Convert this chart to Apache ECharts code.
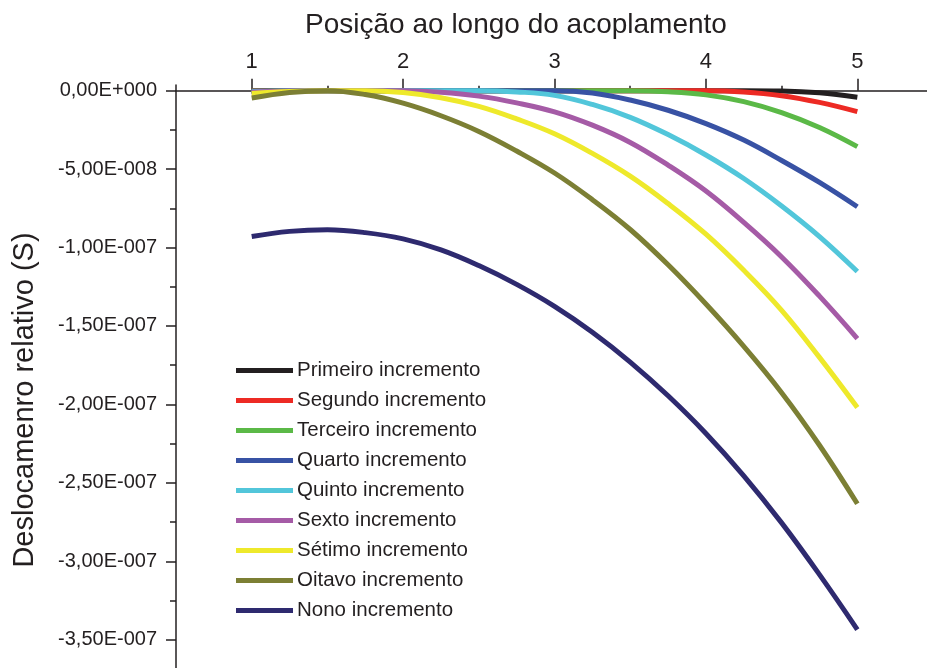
<!DOCTYPE html>
<html>
<head>
<meta charset="utf-8">
<script src="https://cdn.jsdelivr.net/npm/echarts@6/dist/echarts.min.js"></script>
<style>
  html, body { margin: 0; padding: 0; background: #fff; }
  #chart { width: 927px; height: 668px; }
</style>
</head>
<body>
<div id="chart"></div>
<script>
// posição ao longo do acoplamento
const positions = [1, 1.25, 1.5, 1.75, 2, 2.25, 2.5, 2.75, 3, 3.25, 3.5, 3.75, 4, 4.25, 4.5, 4.75, 5];

// deslocamento relativo
const primeiro = [0, 0, 0, 0, 0, 0, 0, 0, 0, 0, 0, 0, 0, 0, -0.02e-8, -0.14e-8, -0.42e-8];
const segundo = [-0.01e-8, 0, 0, 0, 0, 0, 0, 0, 0, 0, 0, 0, 0, -0.08e-8, -0.32e-8, -0.75e-8, -1.34e-8];
const terceiro = [-0.02e-8, 0, 0, 0, 0, 0, 0, 0, 0, 0, 0, -0.07e-8, -0.27e-8, -0.7e-8, -1.4e-8, -2.35e-8, -3.57e-8];
const quarto = [-0.04e-8, -0.01e-8, 0, 0, 0, 0, 0, 0, 0, -0.15e-8, -0.6e-8, -1.25e-8, -2.1e-8, -3.15e-8, -4.45e-8, -5.85e-8, -7.4e-8];
const quinto = [-0.07e-8, -0.02e-8, 0, 0, 0, 0, 0, -0.08e-8, -0.3e-8, -0.88e-8, -1.7e-8, -2.8e-8, -4.1e-8, -5.6e-8, -7.35e-8, -9.3e-8, -11.53e-8];
const sexto = [-0.1e-8, -0.03e-8, 0, 0, 0, -0.1e-8, -0.35e-8, -0.78e-8, -1.35e-8, -2.2e-8, -3.3e-8, -4.75e-8, -6.4e-8, -8.4e-8, -10.6e-8, -13.1e-8, -15.8e-8];
const setimo = [-0.18e-8, -0.05e-8, 0, 0, -0.12e-8, -0.45e-8, -1.0e-8, -1.8e-8, -2.75e-8, -4.0e-8, -5.45e-8, -7.2e-8, -9.15e-8, -11.45e-8, -14.0e-8, -17.0e-8, -20.2e-8];
const oitavo = [-0.47e-8, -0.12e-8, 0, -0.25e-8, -0.8e-8, -1.6e-8, -2.6e-8, -3.85e-8, -5.25e-8, -6.95e-8, -8.85e-8, -11.1e-8, -13.6e-8, -16.3e-8, -19.25e-8, -22.6e-8, -26.33e-8];
const nono = [-9.3e-8, -8.97e-8, -8.87e-8, -9.05e-8, -9.45e-8, -10.15e-8, -11.15e-8, -12.35e-8, -13.75e-8, -15.4e-8, -17.3e-8, -19.45e-8, -21.85e-8, -24.55e-8, -27.55e-8, -30.85e-8, -34.35e-8];

const seriesNames = ['Primeiro incremento', 'Segundo incremento', 'Terceiro incremento', 'Quarto incremento',
    'Quinto incremento', 'Sexto incremento', 'Sétimo incremento', 'Oitavo incremento', 'Nono incremento'];
const seriesValues = [primeiro, segundo, terceiro, quarto, quinto, sexto, setimo, oitavo, nono];
const colors = ['#231f20', '#ed2a24', '#5bb947', '#3852a4', '#52c6da', '#a55ba6', '#eee92b', '#7c7f34', '#2e2a6f'];

// eixos
const xTicks = [1, 2, 3, 4, 5];
const xMinorTicks = [1.5, 2.5, 3.5, 4.5];
const yTicks = [0, -5e-8, -1e-7, -1.5e-7, -2e-7, -2.5e-7, -3e-7, -3.5e-7];
const yTickLabels = ['0,00E+000', '-5,00E-008', '-1,00E-007', '-1,50E-007', '-2,00E-007', '-2,50E-007', '-3,00E-007', '-3,50E-007'];
const yMinorTicks = [-2.5e-8, -7.5e-8, -1.25e-7, -1.75e-7, -2.25e-7, -2.75e-7, -3.25e-7];

const FONT = '"Liberation Sans", Arial, Helvetica, sans-serif';
const TEXT = '#231f20';

const chart = echarts.init(document.getElementById('chart'));

const xRange = { min: 0.5, max: 5.46 };
const yRange = { min: -3.68e-7, max: 3.6e-9 };

const option = {
    animation: false,
    backgroundColor: '#ffffff',
    grid: {
        left: 176,
        right: 0,
        top: 85,
        bottom: 0,
        containLabel: false,
        outerBoundsMode: 'none'
    },
    graphic: [{
        type: 'text',
        x: 516,
        y: 25,
        style: {
            text: 'Posição ao longo do acoplamento',
            font: '28px ' + FONT,
            fill: TEXT,
            align: 'center',
            verticalAlign: 'middle'
        }
    }, {
        type: 'text',
        x: 25,
        y: 400,
        rotation: Math.PI / 2,
        style: {
            text: 'Deslocamenro relativo (S)',
            font: '29px ' + FONT,
            fill: TEXT,
            align: 'center',
            verticalAlign: 'middle'
        }
    }],
    legend: {
        orient: 'vertical',
        left: 236,
        top: 360,
        padding: 0,
        itemWidth: 57,
        itemHeight: 5,
        itemGap: 9,
        icon: 'rect',
        data: seriesNames,
        textStyle: {
            fontFamily: FONT,
            fontSize: 20.5,
            lineHeight: 20,
            color: TEXT,
            padding: [0, 0, 0, -1]
        }
    },
    xAxis: [{
        type: 'value',
        position: 'top',
        min: xRange.min,
        max: xRange.max,
        axisLine: { show: true, onZero: true, lineStyle: { color: TEXT, width: 1.5 } },
        axisTick: { show: true, customValues: xTicks, length: 12, lineStyle: { color: TEXT, width: 1.5 } },
        axisLabel: {
            customValues: xTicks,
            margin: 12,
            fontFamily: FONT,
            fontSize: 22,
            color: TEXT
        },
        splitLine: { show: false }
    }, {
        type: 'value',
        position: 'bottom',
        min: xRange.min,
        max: xRange.max,
        axisLine: { show: false, onZero: true },
        axisTick: { show: true, inside: true, customValues: xMinorTicks, length: 5, lineStyle: { color: TEXT, width: 1.5 } },
        axisLabel: { show: false },
        splitLine: { show: false }
    }],
    yAxis: [{
        type: 'value',
        position: 'left',
        min: yRange.min,
        max: yRange.max,
        axisLine: { show: true, onZero: false, lineStyle: { color: TEXT, width: 1.5 } },
        axisTick: { show: true, customValues: yTicks, length: 10, lineStyle: { color: TEXT, width: 1.5 } },
        axisLabel: {
            customValues: yTicks,
            margin: 19,
            fontFamily: FONT,
            fontSize: 20,
            color: TEXT,
            formatter: function (v) {
                const i = yTicks.findIndex(t => Math.abs(t - v) < 1e-12);
                return i >= 0 ? yTickLabels[i] : '';
            }
        },
        splitLine: { show: false }
    }, {
        type: 'value',
        position: 'right',
        offset: -751,
        min: yRange.min,
        max: yRange.max,
        axisLine: { show: false, onZero: false },
        axisTick: { show: true, inside: true, customValues: yMinorTicks, length: 6, lineStyle: { color: TEXT, width: 1.5 } },
        axisLabel: { show: false },
        splitLine: { show: false }
    }],
    series: seriesNames.map((name, i) => ({
        name: name,
        type: 'line',
        xAxisIndex: 0,
        yAxisIndex: 0,
        data: positions.map((x, j) => [x, seriesValues[i][j]]),
        smooth: 0.4,
        showSymbol: false,
        symbol: 'none',
        color: colors[i],
        lineStyle: { color: colors[i], width: 5 },
        emphasis: { disabled: true }
    }))
};

chart.setOption(option);
</script>
</body>
</html>
